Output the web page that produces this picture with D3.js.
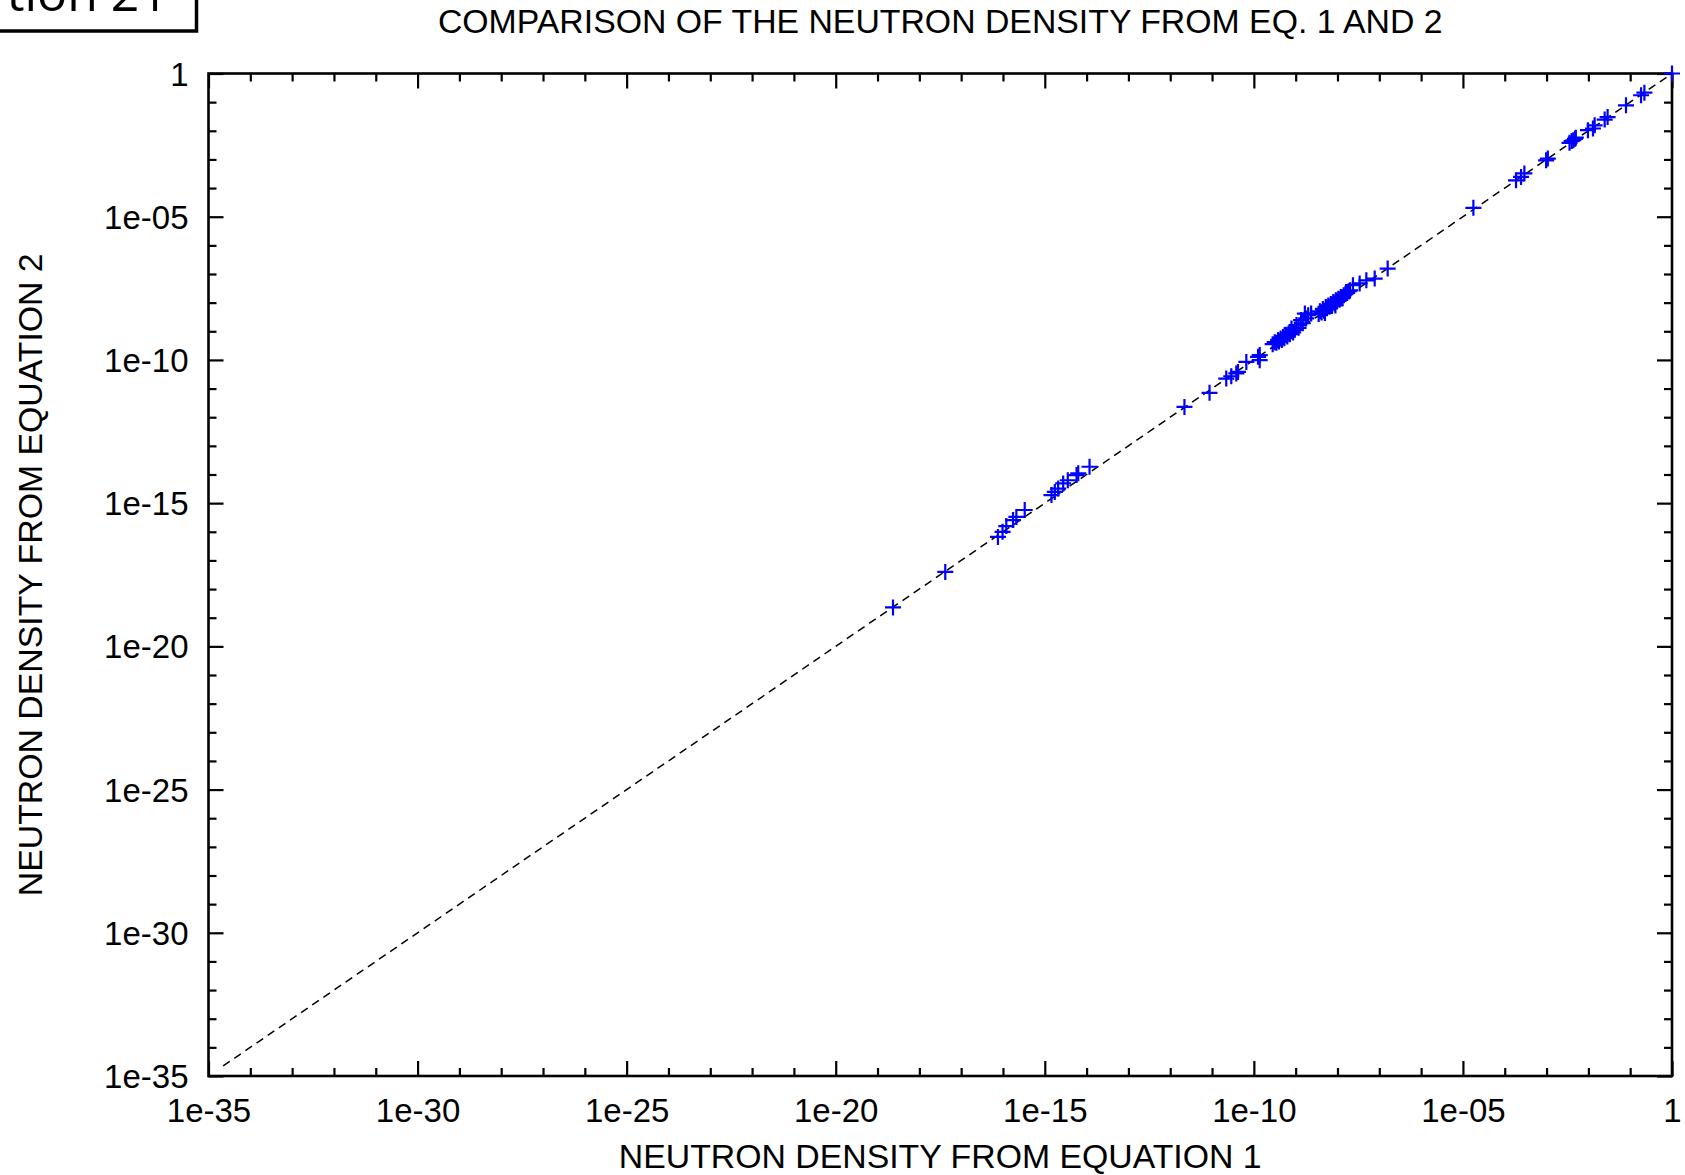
<!DOCTYPE html>
<html>
<head>
<meta charset="utf-8">
<script src="https://cdn.jsdelivr.net/npm/d3@7"></script>
<style>
  html, body { margin: 0; padding: 0; background: #fff; }
  svg { display: block; }
  text { font-family: "Liberation Sans", Arial, Helvetica, sans-serif; fill: #000; }
</style>
</head>
<body>
<svg id="chart" width="1685" height="1175"></svg>
<script>
// Neutron density computed two ways, stored as log10 values (same index = same case).
const log10Eq1 = [
  -18.63, -17.38,
  -16.12, -16.01, -15.92, -15.76, -15.68, -15.48,
  -14.84, -14.76, -14.68, -14.56, -14.45, -14.24, -14.20, -13.93,
  -11.66, -11.06, -10.66, -10.54, -10.42, -10.38, -10.18, -9.90, -9.86, -9.86,
  -9.55, -9.50, -9.46, -9.42, -9.40, -9.36, -9.33, -9.30, -9.27, -9.24, -9.20, -9.17,
  -9.14, -9.10, -9.06, -9.02, -8.98, -8.93, -8.87, -8.83, -8.78, -8.75, -8.70, -8.63,
  -8.45, -8.42, -8.38, -8.35, -8.32, -8.30, -8.28, -8.25, -8.22, -8.19, -8.16, -8.13,
  -8.10, -8.07, -8.05, -8.04, -8.01, -7.98, -7.95, -7.92, -7.88, -7.85, -7.81, -7.77,
  -7.73, -7.70, -7.63, -7.47, -7.31, -7.11, -6.80,
  -4.75,
  -3.73, -3.61, -3.53, -3.01, -2.97,
  -2.45, -2.40, -2.36, -2.32, -2.30,
  -2.01, -1.89, -1.85, -1.61, -1.54, -1.10, -0.74, -0.66, 0.00
];
const log10Eq2 = [
  -18.64, -17.40,
  -16.18, -16.00, -15.80, -15.59, -15.48, -15.24,
  -14.72, -14.61, -14.49, -14.31, -14.20, -14.02, -13.96, -13.73,
  -11.64, -11.15, -10.65, -10.57, -10.47, -10.42, -10.07, -9.89, -9.83, -10.01,
  -9.45, -9.38, -9.40, -9.30, -9.36, -9.25, -9.30, -9.20, -9.24, -9.12, -9.18, -9.08,
  -9.10, -8.90, -9.04, -8.95, -8.78, -8.88, -8.61, -8.72, -8.38, -8.55, -8.44, -8.38,
  -8.40, -8.30, -8.34, -8.22, -8.28, -8.36, -8.15, -8.20, -8.10, -8.14, -8.05, -8.08,
  -7.98, -8.02, -8.10, -7.92, -7.96, -7.86, -7.90, -7.80, -7.84, -7.74, -7.70, -7.66,
  -7.60, -7.57, -7.39, -7.33, -7.22, -7.16, -6.81,
  -4.69,
  -3.73, -3.61, -3.49, -3.03, -2.97,
  -2.42, -2.36, -2.33, -2.28, -2.24,
  -1.98, -1.92, -1.81, -1.61, -1.52, -1.11, -0.76, -0.67, 0.00
];

// y = x reference line, in log10 units
const diagonalLog10 = [-34.65, 0];

// Axis decades
const majorExponents = [-35, -30, -25, -20, -15, -10, -5, 0];
const tickLabels = ["1e-35", "1e-30", "1e-25", "1e-20", "1e-15", "1e-10", "1e-05", "1"];
const minorExponents = d3.range(-35, 1).filter(e => !majorExponents.includes(e));

const titleText = "COMPARISON OF THE NEUTRON DENSITY FROM EQ. 1 AND 2";
const xTitle = "NEUTRON DENSITY FROM EQUATION 1";
const yTitle = "NEUTRON DENSITY FROM EQUATION 2";

const points = log10Eq1.map((lx, i) => ({ n1: Math.pow(10, lx), n2: Math.pow(10, log10Eq2[i]) }));

const svg = d3.select("#chart");
const plotLeft = 208.5, plotRight = 1672, plotTop = 73.5, plotBottom = 1076;

const x = d3.scaleLog().domain([1e-35, 1]).range([plotLeft, plotRight]);
const y = d3.scaleLog().domain([1e-35, 1]).range([plotBottom, plotTop]);

const tickFont = 33;
const titleFont = 33.8;

// Fragment of a boxed caption at the top-left corner
svg.append("text")
  .attr("x", 168).attr("y", 11)
  .attr("text-anchor", "end")
  .style("font-family", "'Open Sans', 'DejaVu Sans', sans-serif")
  .style("font-size", "50px")
  .text("tion 21");
svg.append("rect")
  .attr("x", -20).attr("y", -40)
  .attr("width", 216.5).attr("height", 71)
  .attr("fill", "none").attr("stroke", "#000").attr("stroke-width", 3.5);

// Title
svg.append("text")
  .attr("x", (plotLeft + plotRight) / 2).attr("y", 33)
  .attr("text-anchor", "middle")
  .style("font-size", titleFont + "px")
  .text(titleText);

// Dashed y = x line
const diag = diagonalLog10.map(v => Math.pow(10, v));
svg.append("line")
  .attr("x1", x(diag[0])).attr("y1", y(diag[0]))
  .attr("x2", x(diag[1])).attr("y2", y(diag[1]))
  .attr("stroke", "#000").attr("stroke-width", 1.5)
  .attr("stroke-dasharray", "8,5.5");

// Inward ticks on all four sides
function tickAxis(axisFn, scale, exps, size, translate) {
  const g = svg.append("g")
    .attr("transform", translate)
    .call(axisFn(scale)
      .tickValues(exps.map(e => Math.pow(10, e)))
      .tickSizeInner(-size).tickSizeOuter(0)
      .tickFormat(""));
  g.select(".domain").remove();
  g.selectAll(".tick line").attr("stroke", "#000").attr("stroke-width", 2.2);
  return g;
}
const majorLen = 15, minorLen = 8;
[[majorExponents, majorLen], [minorExponents, minorLen]].forEach(([exps, len]) => {
  tickAxis(d3.axisBottom, x, exps, len, `translate(0,${plotBottom})`);
  tickAxis(d3.axisTop, x, exps, len, `translate(0,${plotTop})`);
  tickAxis(d3.axisLeft, y, exps, len, `translate(${plotLeft},0)`);
  tickAxis(d3.axisRight, y, exps, len, `translate(${plotRight},0)`);
});

// Tick labels
const xLabels = svg.append("g")
  .attr("transform", `translate(0,${plotBottom})`)
  .call(d3.axisBottom(x)
    .tickValues(majorExponents.map(e => Math.pow(10, e)))
    .tickSize(0).tickPadding(0)
    .tickFormat((d, i) => tickLabels[i]));
xLabels.select(".domain").remove();
xLabels.selectAll("text")
  .attr("y", 46).attr("dy", null)
  .style("font-size", tickFont + "px")
  .style("font-family", "'Liberation Sans', Arial, sans-serif");

const yLabels = svg.append("g")
  .attr("transform", `translate(${plotLeft},0)`)
  .call(d3.axisLeft(y)
    .tickValues(majorExponents.map(e => Math.pow(10, e)))
    .tickSize(0).tickPadding(20)
    .tickFormat((d, i) => tickLabels[i]));
yLabels.select(".domain").remove();
yLabels.selectAll("text")
  .attr("dy", "0.35em")
  .style("font-size", tickFont + "px")
  .style("font-family", "'Liberation Sans', Arial, sans-serif");

// Frame
svg.append("rect")
  .attr("x", plotLeft).attr("y", plotTop)
  .attr("width", plotRight - plotLeft).attr("height", plotBottom - plotTop)
  .attr("fill", "none").attr("stroke", "#000").attr("stroke-width", 2.6);

// Data crosses
const arm = 8;
svg.append("g").selectAll("path")
  .data(points)
  .join("path")
  .attr("d", d => {
    const cx = x(d.n1), cy = y(d.n2);
    return `M${cx - arm},${cy}H${cx + arm}M${cx},${cy - arm}V${cy + arm}`;
  })
  .attr("stroke", "#0000ff").attr("stroke-width", 2.2).attr("fill", "none");

// Axis titles
svg.append("text")
  .attr("x", (plotLeft + plotRight) / 2).attr("y", 1168)
  .attr("text-anchor", "middle")
  .style("font-size", titleFont + "px")
  .text(xTitle);
svg.append("text")
  .attr("transform", `translate(42,${(plotTop + plotBottom) / 2}) rotate(-90)`)
  .attr("text-anchor", "middle")
  .style("font-size", titleFont + "px")
  .text(yTitle);
</script>
</body>
</html>
